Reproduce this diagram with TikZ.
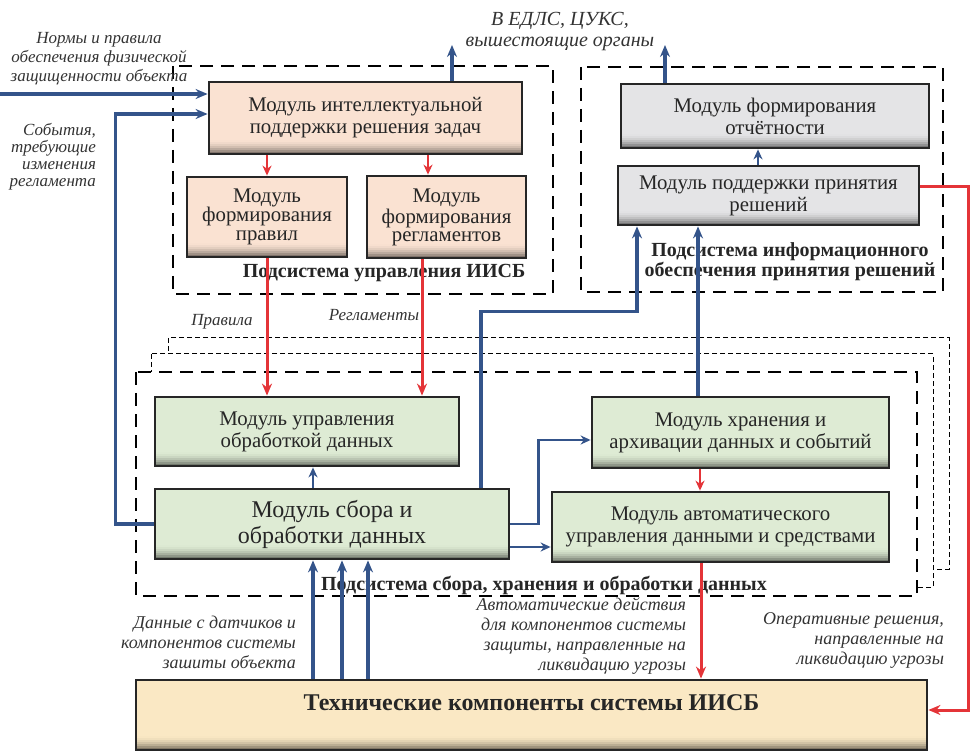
\documentclass[tikz,border=0pt]{standalone}
\usepackage{fontspec}
\setmainfont{Liberation Serif}
\usetikzlibrary{arrows.meta}

\definecolor{peach}{RGB}{250,226,210}
\definecolor{mint}{RGB}{222,235,212}
\definecolor{pale}{RGB}{228,228,230}
\definecolor{sand}{RGB}{250,232,196}
\definecolor{linkblue}{RGB}{52,84,138}
\definecolor{linkred}{RGB}{228,52,56}

\tikzset{
    module/.style={draw=black!85, line width=1.4pt, fill=#1, align=center, inner sep=1pt,
        text=black!85, font=\fontsize{10.4}{11}\selectfont,
        path picture={\foreach \i in {1,...,7}{
                \pgfmathsetmacro\ytop{8-\i}
                \pgfmathtruncatemacro\p{100-\i*\i}
                \fill[#1!\p!black] ([yshift=\ytop pt]path picture bounding box.south west) rectangle (path picture bounding box.south east);}}},
    subsys/.style={dash pattern=on 6.5pt off 4pt, line width=1.4pt, fill=white},
    ghost/.style={dash pattern=on 2.5pt off 1.5pt, line width=0.5pt, fill=white},
    note/.style={font=\fontsize{8.5}{9.5}\selectfont\itshape, text=black!80},
    caption/.style={font=\fontsize{10}{10}\selectfont\bfseries, text=black!85, align=center},
    bluelink/.style={draw=linkblue, line width=1.6pt, -{Stealth[length=6pt,width=5pt]}},
    thinblue/.style={draw=linkblue, line width=1.1pt, -{Stealth[length=5pt,width=4.5pt]}},
    redlink/.style={draw=linkred, line width=1.5pt, -{Stealth[length=6pt,width=5pt]}},
    thinred/.style={draw=linkred, line width=1pt, -{Stealth[length=5pt,width=4.5pt]}},
}

\begin{document}
\begin{tikzpicture}[x=0.5pt, y=-0.5pt]
        \useasboundingbox (0,0) rectangle (975,754);

        % subsystem frames
        \draw[ghost] (168,338) rectangle (949,569);
        \draw[ghost] (151,354) rectangle (933,587);
        \draw[subsys] (136,372) rectangle (917,596);
        \draw[subsys] (173,66) rectangle (553,294);
        \draw[subsys] (581,67) rectangle (943,292);

        % modules
        \node[module=peach, minimum width=156.5pt, minimum height=36pt] (intel) at (365.5,118) {Модуль интеллектуальной\\поддержки решения задач};
        \node[module=peach, minimum width=80pt, minimum height=40pt, font=\fontsize{10.4}{9.5}\selectfont] (rules) at (267,217) {Модуль\\формирования\\правил};
        \node[module=peach, minimum width=79.5pt, minimum height=41pt, font=\fontsize{10.4}{9}\selectfont] (regl) at (446.5,217) {Модуль\\формирования\\регламентов};
        \node[module=pale, minimum width=154pt, minimum height=32pt] (report) at (775,116) {Модуль формирования\\отчётности};
        \node[module=pale, minimum width=150.5pt, minimum height=29.5pt] (decision) at (768.5,195.5) {Модуль поддержки принятия\\решений};
        \node[module=mint, minimum width=152pt, minimum height=34.5pt] (control) at (307,431.5) {Модуль управления\\обработкой данных};
        \node[module=mint, minimum width=177pt, minimum height=35pt, font=\fontsize{12}{13}\selectfont] (collect) at (332,524) {Модуль сбора и\\обработки данных};
        \node[module=mint, minimum width=148.5pt, minimum height=35.5pt] (storage) at (740.5,432.5) {Модуль хранения и\\архивации данных и событий};
        \node[module=mint, minimum width=168.5pt, minimum height=35pt] (auto) at (720.5,527) {Модуль автоматического\\управления данными и средствами};
        \node[module=sand, minimum width=395.5pt, minimum height=35pt, text depth=12pt, font=\fontsize{12}{13}\selectfont\bfseries] (tech) at (531.5,715) {Технические компоненты системы ИИСБ};

        % Add text labels
        \node[caption] (capctl) at (384,273) {Подсистема управления ИИСБ};
        \node[caption] (capinfo) at (790,262) {Подсистема информационного\\обеспечения принятия решений};
        \node[caption] (capdata) at (544,585) {Подсистема сбора, хранения и обработки данных};

        \node[note, align=center] (norms) at (99,59) {Нормы и правила\\обеспечения физической\\защищенности объекта};
        \node[note, align=right, anchor=east, font=\fontsize{8.5}{8.5}\selectfont\itshape] (events) at (103,157) {События,\\требующие\\изменения\\регламента};
        \node[note] (lblrules) at (222,322) {Правила};
        \node[note] (lblregl) at (374,315) {Регламенты};
        \node[note, align=right, anchor=east, font=\fontsize{9}{10}\selectfont\itshape] (sensors) at (303,642) {Данные с датчиков и\\компонентов системы\\зашиты объекта};
        \node[note, align=right, anchor=east, font=\fontsize{9}{10}\selectfont\itshape] (actions) at (693,636) {Автоматические действия\\для компонентов системы\\защиты, направленные на\\ликвидацию угрозы};
        \node[note, align=right, anchor=east, font=\fontsize{9}{10}\selectfont\itshape] (operative) at (951,640) {Оперативные решения,\\направленные на\\ликвидацию угрозы};
        \node[note, align=center, font=\fontsize{10}{10.5}\selectfont\itshape] (upper) at (560,32) {В ЕДЛС, ЦУКС,\\вышестоящие органы};

        \coordinate (normsrc) at (0,94);
        \coordinate (uplevel) at (560,45);

        % draw arrows
        \draw[bluelink] (normsrc) -- (normsrc -| intel.west);
        \draw[bluelink] (collect.west) -- ++(-19pt,0) |- ([yshift=2pt]intel.west);
        \draw[bluelink] ([xshift=43.25pt]intel.north) -- ([xshift=43.25pt]intel.north |- uplevel);
        \draw[bluelink] ([xshift=-55pt]report.north) -- ([xshift=-55pt]report.north |- uplevel);

        \draw[thinred] (intel.south -| rules.north) -- (rules.north);
        \draw[thinred] ([xshift=-9.25pt]intel.south -| regl.north) -- ([xshift=-9.25pt]regl.north);
        \draw[redlink] (rules.south) -- (rules.south |- control.north);
        \draw[redlink] ([xshift=-12.25pt]regl.south) -- ([xshift=-12.25pt]regl.south |- control.north);

        \draw[thinblue] ([xshift=-9.5pt]collect.north) -- ([xshift=-9.5pt]collect.north |- control.south);
        \draw[bluelink] ([xshift=74.5pt]collect.north) -- ++(0,-176) -| ([xshift=-65.75pt]decision.south);
        \draw[bluelink] ([xshift=-21.25pt]storage.north) -- ([xshift=-21.25pt]storage.north |- decision.south);
        \draw[thinblue] ([xshift=-5.25pt]decision.north) -- ([xshift=-5.25pt]decision.north |- report.south);
        \draw[thinblue] (collect.east) -- ++(14pt,0) |- ([yshift=-3.75pt]storage.west);
        \draw[thinblue] ([yshift=-11.5pt]collect.east) -- ([yshift=-11.5pt]collect.east -| auto.west);

        \draw[thinred] ([xshift=-20.25pt]storage.south) -- ([xshift=-20.25pt]storage.south |- auto.north);
        \draw[redlink] ([xshift=-9.75pt]auto.south) -- ([xshift=-9.75pt]auto.south |- tech.north);
        \draw[redlink] ([yshift=4.25pt]decision.east) -- ++(24pt,0) |- ([yshift=2.5pt]tech.east);

        \foreach \dx in {-9.5,5,18}
            \draw[bluelink] ([xshift=\dx pt]collect.south |- tech.north) -- ([xshift=\dx pt]collect.south);
\end{tikzpicture}
\end{document}
